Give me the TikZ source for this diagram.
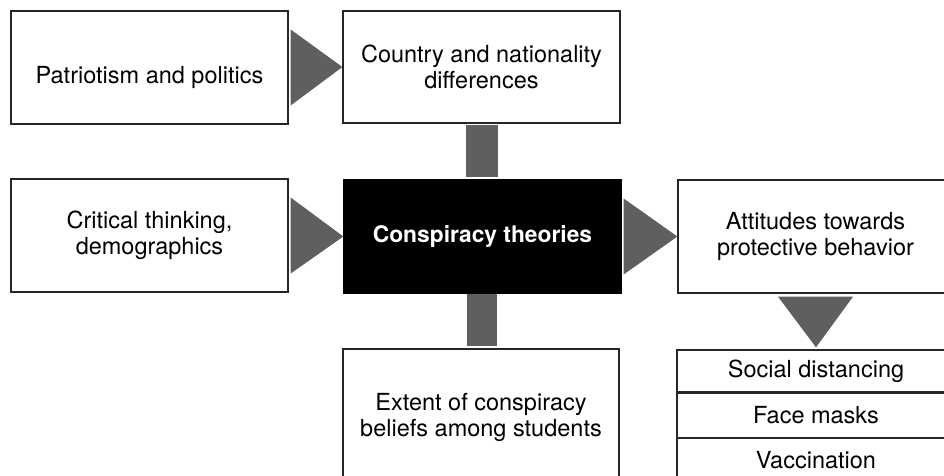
\documentclass[tikz,border=0pt]{standalone}
\usepackage{fontspec}
\setmainfont{TeX Gyre Heros}
\usetikzlibrary{calc}
\definecolor{arrgray}{HTML}{5F5F5F}
\tikzset{
  box/.style={draw=black!85, line width=1.3pt, fill=white, inner sep=0pt, align=center,
    font=\fontsize{23.5}{26}\selectfont},
  plain/.style={inner sep=0pt, align=center, font=\fontsize{23.5}{26}\selectfont},
  arr/.style={fill=arrgray},
}
\begin{document}
\begin{tikzpicture}[x=1pt,y=-1pt]
\useasboundingbox (0,0) rectangle (944,476);
\clip (0,0) rectangle (944,476);
\fill[white] (0,0) rectangle (944,476);
% boxes
\node[box, minimum width=277pt, minimum height=113pt] (patr) at (149.5,67.5) {};
\node[plain] (patrtxt) at (149.5,77) {Patriotism and politics};
\node[box, minimum width=277pt, minimum height=112pt] (country) at (481.5,67) {Country and nationality\\differences};
\node[box, minimum width=277pt, minimum height=113pt] (crit) at (149.5,235.5) {Critical thinking,\\demographics};
\node[box, draw=black, fill=black, text=white, minimum width=277pt, minimum height=113pt,
  font=\fontsize{22.8}{26}\selectfont\bfseries] (consp) at (482.5,236.5) {Conspiracy theories};
\node[box, minimum width=275pt, minimum height=113pt] (att) at (815.5,236.5) {Attitudes towards\\protective behavior};
\node[box, minimum width=276pt, minimum height=150pt] (extent) at (481,424) {};
\node[plain] (extenttxt) at (481,417) {Extent of conspiracy\\beliefs among students};
% table
\node[box, minimum width=278pt, minimum height=42pt] (soc) at (816,371) {Social distancing};
\node[box, minimum width=278pt, minimum height=44pt, anchor=north] (face) at (soc.south) {Face masks};
\node[box, minimum width=278pt, minimum height=44pt, anchor=north] (vacc) at (face.south) {Vaccination};
% arrows
\fill[arr] ($(patr.east)+(2,-38)$) -- ($(patr.east)+(2,38)$) -- (country.west) -- cycle;
\fill[arr] ($(crit.east)+(2,-38)$) -- ($(crit.east)+(2,38)$) -- (consp.west) -- cycle;
\fill[arr] ($(consp.east)+(2,-38)$) -- ($(consp.east)+(2,38)$) -- (att.west) -- cycle;
\fill[arr] ($(att.south)+(-37.5,3)$) -- ($(att.south)+(37.5,3)$) -- ($(soc.north)+(0,-2)$) -- cycle;
\fill[arr] ($(country.south)+(-15.5,1)$) rectangle ($(consp.north)+(15.5,-2)$);
\fill[arr] ($(consp.south)+(-15.5,0)$) rectangle ($(extent.north)+(15.5,-2)$);
\end{tikzpicture}
\end{document}
